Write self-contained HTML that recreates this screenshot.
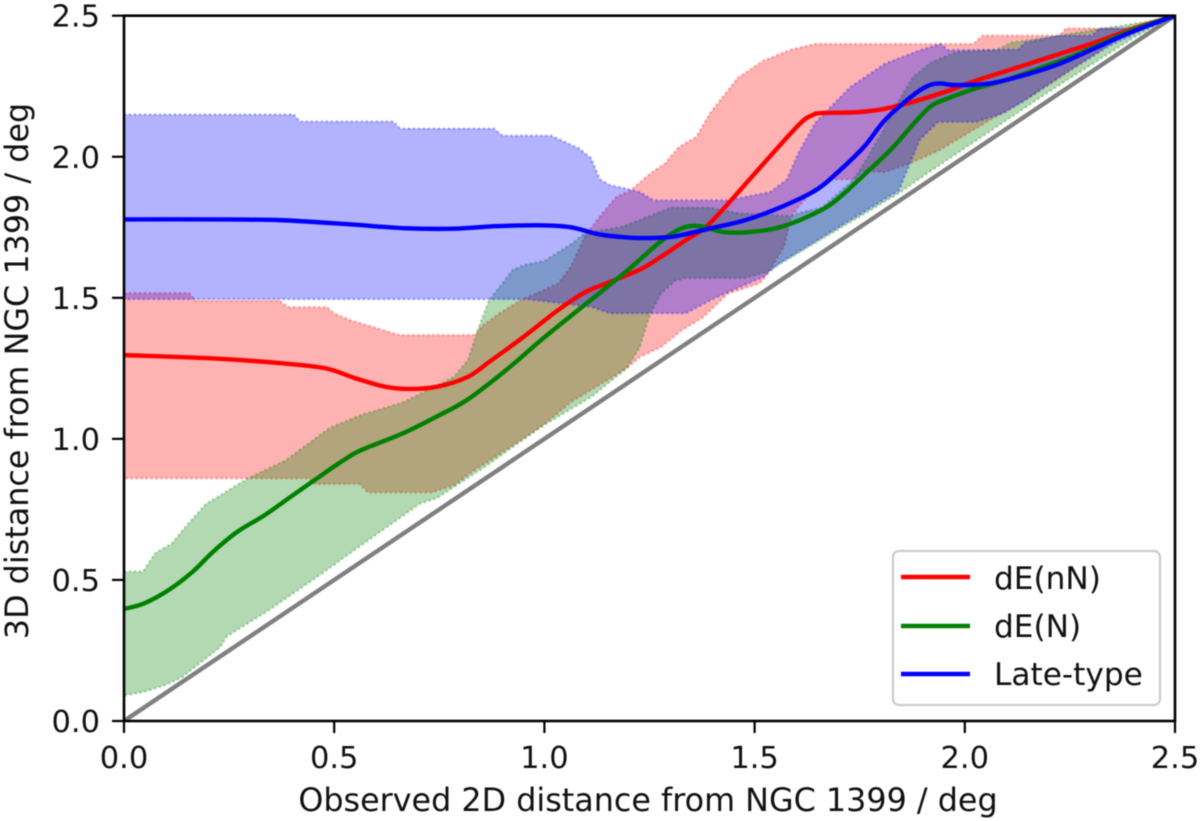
<!DOCTYPE html>
<html>
<head>
<meta charset="utf-8">
<style>
html,body{margin:0;padding:0;background:#fff;width:1200px;height:821px;overflow:hidden}
svg{display:block;filter:blur(0.6px)}
text{font-family:"DejaVu Sans","Liberation Sans",sans-serif;fill:#111}
</style>
</head>
<body>
<svg id="chart" xmlns="http://www.w3.org/2000/svg" width="1200" height="821" viewBox="0 0 1200 821">
  <defs><clipPath id="plot-clip"><rect x="124" y="15.7" width="1051" height="705.3"/></clipPath></defs>
  <g id="bands" clip-path="url(#plot-clip)"></g>
  <g id="lines" clip-path="url(#plot-clip)"></g>
  <g id="ticks"></g>
  <rect x="124" y="15.7" width="1051" height="705.3" fill="none" stroke="#000" stroke-width="2.6"/>
  <text x="648" y="811" text-anchor="middle" font-size="31.8">Observed 2D distance from NGC 1399 / deg</text>
  <text transform="translate(28,371) rotate(-90)" text-anchor="middle" font-size="31.8">3D distance from NGC 1399 / deg</text>
  <g>
    <rect x="893" y="551" width="267" height="154" rx="6" fill="#fff" fill-opacity="0.8" stroke="#ccc" stroke-width="2.2"/>
    <line x1="901" x2="970" y1="577" y2="577" stroke="#f00" stroke-width="4.4"/>
    <text x="994" y="589" font-size="31.2">dE(nN)</text>
    <line x1="901" x2="970" y1="626" y2="626" stroke="#008000" stroke-width="4.4"/>
    <text x="994" y="637" font-size="31.2">dE(N)</text>
    <line x1="901" x2="970" y1="674" y2="674" stroke="#00f" stroke-width="4.4"/>
    <text x="994" y="685" font-size="31.2">Late-type</text>
  </g>
</svg>
<script>
const xTicks = [0, 0.5, 1, 1.5, 2, 2.5];
const yTicks = [0, 0.5, 1, 1.5, 2, 2.5];
const xTickLabels = ["0.0", "0.5", "1.0", "1.5", "2.0", "2.5"];
const yTickLabels = ["0.0", "0.5", "1.0", "1.5", "2.0", "2.5"];
const identityX = [0, 2.5];
const identityY = [0, 2.5];

const redLineX = [0,.212,.376,.48,.55,.621,.68,.745,.818,.868,.949,1.032,1.097,1.154,1.227,1.277,1.337,1.394,1.5,1.603,1.637,1.66,1.744,1.81,1.877,1.953,2.027,2.143,2.226,2.31,2.393,2.5];
const redLineY = [1.297,1.285,1.268,1.25,1.215,1.185,1.177,1.185,1.22,1.272,1.36,1.456,1.52,1.555,1.6,1.645,1.705,1.765,1.94,2.11,2.147,2.155,2.158,2.17,2.195,2.23,2.27,2.325,2.365,2.405,2.45,2.5];

const greenLineX = [0,.048,.107,.164,.212,.269,.335,.392,.459,.523,.564,.664,.745,.818,.909,1,1.1,1.2,1.277,1.327,1.37,1.427,1.487,1.56,1.644,1.694,1.76,1.827,1.877,1.92,1.96,2.027,2.093,2.186,2.27,2.393,2.5];
const greenLineY = [.397,.417,.465,.53,.6,.67,.73,.79,.86,.925,.96,1.02,1.08,1.14,1.244,1.36,1.48,1.6,1.7,1.747,1.754,1.733,1.733,1.75,1.8,1.846,1.935,2.03,2.115,2.18,2.207,2.243,2.27,2.318,2.365,2.445,2.5];

const blueLineX = [0,.212,.376,.54,.664,.785,.885,.992,1.063,1.13,1.196,1.251,1.311,1.394,1.477,1.56,1.644,1.694,1.76,1.81,1.87,1.91,1.941,1.977,2.06,2.143,2.226,2.31,2.393,2.5];
const blueLineY = [1.778,1.778,1.775,1.76,1.747,1.745,1.754,1.757,1.75,1.725,1.714,1.712,1.718,1.746,1.775,1.82,1.88,1.94,2.035,2.13,2.21,2.25,2.26,2.254,2.26,2.29,2.33,2.385,2.44,2.5];

const redUpperX = [0,.155,.17,.37,.39,.483,.5,.54,.607,.655,.835,.852,.892,.942,1.032,1.063,1.097,1.13,1.17,1.204,1.251,1.287,1.32,1.361,1.394,1.46,1.52,1.587,1.644,2.02,2.043,2.226,2.24,2.376,2.5];
const redUpperY = [1.517,1.517,1.49,1.49,1.467,1.467,1.445,1.42,1.39,1.368,1.368,1.4,1.445,1.49,1.55,1.61,1.72,1.785,1.857,1.88,1.94,1.977,2.035,2.07,2.155,2.28,2.34,2.38,2.4,2.4,2.43,2.43,2.455,2.455,2.5];
const redLowerX = [0,.44,.455,.56,.58,.733,.785,.825,.99,1.063,1.196,1.227,1.277,1.327,1.377,1.437,1.51,1.527,1.57,1.587,1.603,1.644,1.677,1.736,1.76,1.81,1.87,1.936,1.993,2.06,2.143,2.226,2.31,2.393,2.5];
const redLowerY = [.86,.86,.84,.84,.81,.81,.835,.88,1.04,1.13,1.25,1.29,1.325,1.385,1.43,1.515,1.55,1.575,1.68,1.785,1.82,1.89,1.92,1.92,1.95,1.945,1.977,2.02,2.07,2.13,2.2,2.28,2.365,2.45,2.5];

const greenUpperX = [0,.045,.074,.114,.147,.195,.295,.385,.49,.564,.664,.785,.818,.842,.868,.925,.959,.999,1.063,1.097,1.18,1.251,1.301,1.394,1.46,1.587,1.603,1.66,1.736,1.77,1.81,1.843,1.877,1.92,1.977,2.077,2.11,2.226,2.31,2.436,2.5];
const greenUpperY = [.53,.53,.595,.63,.69,.77,.86,.925,1.04,1.085,1.13,1.22,1.28,1.39,1.49,1.6,1.62,1.63,1.69,1.73,1.75,1.79,1.82,1.82,1.8,1.79,1.8,1.82,1.92,2,2.105,2.2,2.283,2.335,2.37,2.38,2.405,2.43,2.45,2.48,2.5];
const greenLowerX = [0,.048,.098,.138,.228,.245,.342,.459,.59,.704,.745,.868,.99,1.113,1.196,1.227,1.251,1.277,1.311,1.337,1.477,1.527,1.843,1.9,2,2.2,2.4,2.5];
const greenLowerY = [.09,.103,.127,.155,.26,.3,.39,.51,.65,.77,.79,.91,1.04,1.15,1.25,1.325,1.44,1.515,1.56,1.57,1.57,1.59,1.87,1.93,2.03,2.23,2.42,2.5];

const blueUpperX = [0,.404,.419,.64,.657,.88,.9,1.016,1.082,1.111,1.132,1.156,1.196,1.227,1.26,1.437,1.537,1.577,1.603,1.644,1.727,1.81,1.893,1.943,1.96,2.127,2.143,2.226,2.303,2.32,2.393,2.5];
const blueUpperY = [2.15,2.15,2.125,2.125,2.1,2.1,2.075,2.075,2.03,1.995,1.92,1.9,1.887,1.875,1.846,1.846,1.875,1.92,2.01,2.12,2.247,2.33,2.378,2.4,2.378,2.38,2.405,2.43,2.43,2.455,2.455,2.5];
const blueLowerX = [0,.959,1.113,1.156,1.337,1.394,1.437,1.52,1.56,1.843,1.87,1.893,1.936,2.027,2.093,2.143,2.243,2.353,2.5];
const blueLowerY = [1.495,1.495,1.467,1.445,1.445,1.49,1.52,1.573,1.623,1.88,1.977,2.06,2.123,2.123,2.155,2.2,2.3,2.4,2.5];

const NS = "http://www.w3.org/2000/svg";
function sx(v){ return 124 + v * (1051 / 2.5); }
function sy(v){ return 721 - v * (705.3 / 2.5); }
function mk(tag, parent, attrs){
  const el = document.createElementNS(NS, tag);
  for (const k in attrs) el.setAttribute(k, attrs[k]);
  parent.appendChild(el);
  return el;
}
function smooth(xs, ys){
  const p = xs.map((x, i) => [sx(x), sy(ys[i])]);
  let d = "M" + p[0][0].toFixed(2) + " " + p[0][1].toFixed(2);
  for (let i = 0; i < p.length - 1; i++){
    const a = p[Math.max(0, i - 1)], b = p[i], c = p[i + 1], e = p[Math.min(p.length - 1, i + 2)];
    const c1x = b[0] + (c[0] - a[0]) / 6, c1y = b[1] + (c[1] - a[1]) / 6;
    const c2x = c[0] - (e[0] - b[0]) / 6, c2y = c[1] - (e[1] - b[1]) / 6;
    d += "C" + c1x.toFixed(2) + " " + c1y.toFixed(2) + " " + c2x.toFixed(2) + " " + c2y.toFixed(2) + " " + c[0].toFixed(2) + " " + c[1].toFixed(2);
  }
  return d;
}
function bandPoints(ux, uy, lx, ly){
  const pts = [];
  ux.forEach((x, i) => pts.push(sx(x).toFixed(2) + "," + sy(uy[i]).toFixed(2)));
  for (let i = lx.length - 1; i >= 0; i--) pts.push(sx(lx[i]).toFixed(2) + "," + sy(ly[i]).toFixed(2));
  return pts.join(" ");
}
function bandAttrs(color, ux, uy, lx, ly){
  return {points: bandPoints(ux, uy, lx, ly), fill: color, "fill-opacity": 0.3, stroke: color, "stroke-opacity": 0.3, "stroke-width": 2.4, "stroke-dasharray": "2 3"};
}

const bands = document.getElementById("bands");
const lines = document.getElementById("lines");
const ticks = document.getElementById("ticks");

const identityLine = mk("path", lines, {d: smooth(identityX, identityY), fill: "none", stroke: "#808080", "stroke-width": 4.4});



const redBand = mk("polygon", bands, bandAttrs("#ff0000", redUpperX, redUpperY, redLowerX, redLowerY));


const greenBand = mk("polygon", bands, bandAttrs("#008000", greenUpperX, greenUpperY, greenLowerX, greenLowerY));


const blueBand = mk("polygon", bands, bandAttrs("#0000ff", blueUpperX, blueUpperY, blueLowerX, blueLowerY));



const redPath = mk("path", lines, {d: smooth(redLineX, redLineY), fill: "none", stroke: "#ff0000", "stroke-width": 4.4});


const greenPath = mk("path", lines, {d: smooth(greenLineX, greenLineY), fill: "none", stroke: "#008000", "stroke-width": 4.4});


const bluePath = mk("path", lines, {d: smooth(blueLineX, blueLineY), fill: "none", stroke: "#0000ff", "stroke-width": 4.4});



xTicks.forEach((v, i) => {
  const t = mk("line", ticks, {x1: sx(v), x2: sx(v), y1: 721, y2: 733, stroke: "#000", "stroke-width": 2.2});
  
  
  const l = mk("text", ticks, {x: sx(v), y: 768, "text-anchor": "middle", "font-size": 30.5});
  l.textContent = xTickLabels[i];
  
  
});
yTicks.forEach((v, i) => {
  const t = mk("line", ticks, {x1: 112, x2: 124, y1: sy(v), y2: sy(v), stroke: "#000", "stroke-width": 2.2});
  
  
  const l = mk("text", ticks, {x: 100, y: sy(v) + 11, "text-anchor": "end", "font-size": 30.5});
  l.textContent = yTickLabels[i];
  
  
});
</script>
</body>
</html>
